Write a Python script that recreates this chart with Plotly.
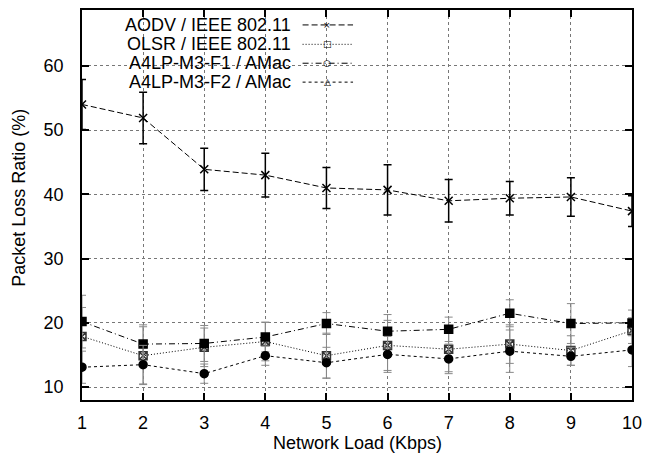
import plotly.graph_objects as go

loads = [1, 2, 3, 4, 5, 6, 7, 8, 9, 10]
series_names = ["AODV / IEEE 802.11", "OLSR / IEEE 802.11", "A4LP-M3-F1 / AMac", "A4LP-M3-F2 / AMac"]

aodv = [54.0, 51.9, 43.9, 43.0, 41.0, 40.7, 39.0, 39.4, 39.6, 37.4]
aodv_err = [3.9, 4.0, 3.3, 3.4, 3.2, 3.9, 3.3, 2.6, 3.0, 2.4]
olsr = [17.9, 14.9, 16.2, 17.1, 14.9, 16.5, 15.9, 16.7, 15.7, 18.8]
olsr_err = [4.5, 4.5, 3.0, 3.0, 3.5, 3.9, 3.5, 3.0, 2.3, 2.0]
f1 = [20.2, 16.7, 16.8, 17.8, 19.9, 18.7, 19.0, 21.5, 19.9, 20.0]
f1_err = [4.1, 3.0, 2.8, 2.3, 1.7, 2.6, 1.9, 2.1, 3.1, 2.0]
f2 = [13.1, 13.5, 12.1, 14.9, 13.8, 15.1, 14.4, 15.6, 14.8, 15.8]
f2_err = [2.5, 3.0, 1.5, 1.5, 2.4, 2.8, 2.3, 3.3, 1.4, 2.6]

y_ticks = [10, 20, 30, 40, 50, 60]

FONT = "Liberation Sans, Arial, Helvetica, sans-serif"
FS = 18

fig = go.Figure()

styles = [
    dict(y=aodv, e=aodv_err, dash="6px,3px", sym="x-thin-open", msize=8, mcolor="black",
         ecolor="black", ethick=1.5),
    dict(y=olsr, e=olsr_err, dash="1px,2px", sym="square-x-open", msize=8, mcolor="#333333",
         ecolor="#888888", ethick=1),
    dict(y=f1, e=f1_err, dash="6px,3px,1px,3px", sym="square", msize=8, mcolor="black",
         ecolor="#888888", ethick=1),
    dict(y=f2, e=f2_err, dash="3px,3px", sym="circle", msize=8, mcolor="black",
         ecolor="#888888", ethick=1),
]

for name, s in zip(series_names, styles):
    fig.add_trace(go.Scatter(
        x=loads, y=s["y"], name=name, mode="lines+markers",
        line=dict(color="black", width=1, dash=s["dash"]),
        marker=dict(symbol=s["sym"], size=s["msize"], color=s["mcolor"],
                    line=dict(color=s["mcolor"], width=1.5)),
        error_y=dict(type="data", array=s["e"], visible=True, color=s["ecolor"],
                     thickness=s["ethick"], width=4),
        showlegend=False,
    ))

# Manual gnuplot-style key: right-aligned text, sample line to the right
L, R, T, B = 82, 12, 8, 60
W, H = 650, 460
pw, ph = W - L - R, H - T - B


def px_x(px):
    return (px - L) / pw


def px_y(py):
    return (H - B - py) / ph


rows = [23, 42.5, 61.5, 80.5]
glyphs = ["×", "□", "○", "△"]
shapes = []
annotations = []
for name, s, ry, g in zip(series_names, styles, rows, glyphs):
    annotations.append(dict(x=px_x(295), y=px_y(ry), xref="paper", yref="paper",
                            text=name, showarrow=False, xanchor="right", yanchor="middle",
                            font=dict(family=FONT, size=FS, color="black")))
    shapes.append(dict(type="line", xref="paper", yref="paper",
                       x0=px_x(305), x1=px_x(356), y0=px_y(ry), y1=px_y(ry),
                       line=dict(color="black", width=1, dash=s["dash"])))
    annotations.append(dict(x=px_x(330), y=px_y(ry), xref="paper", yref="paper",
                            text=g, showarrow=False, xanchor="center", yanchor="middle",
                            bgcolor="rgba(0,0,0,0)",
                            font=dict(family="DejaVu Sans", size=9, color="black")))

# axis titles
annotations.append(dict(x=0.5, y=px_y(443), xref="paper", yref="paper",
                        text="Network Load (Kbps)", showarrow=False,
                        xanchor="center", yanchor="middle",
                        font=dict(family=FONT, size=FS, color="black")))
annotations.append(dict(x=px_x(18), y=px_y(197), xref="paper", yref="paper",
                        text="Packet Loss Ratio (%)", showarrow=False, textangle=-90,
                        xanchor="center", yanchor="middle",
                        font=dict(family=FONT, size=FS, color="black")))

fig.update_layout(
    width=W, height=H,
    margin=dict(l=L, r=R, t=T, b=B, pad=0),
    paper_bgcolor="white", plot_bgcolor="white",
    font=dict(family=FONT, size=FS, color="black"),
    shapes=shapes, annotations=annotations,
    showlegend=False,
)
fig.update_xaxes(
    range=[1, 10], tickmode="array", tickvals=loads, ticktext=[str(v) for v in loads],
    showline=True, linecolor="black", linewidth=1.5, mirror="ticks",
    ticks="inside", ticklen=7, tickcolor="black", tickwidth=1.5,
    showgrid=True, gridcolor="#777777", griddash="dot", gridwidth=1,
    zeroline=False, ticklabelstandoff=6,
)
fig.update_yaxes(
    range=[8, 68.7], tickmode="array", tickvals=y_ticks, ticktext=[str(v) for v in y_ticks],
    showline=True, linecolor="black", linewidth=1.5, mirror="ticks",
    ticks="inside", ticklen=7, tickcolor="black", tickwidth=1.5,
    showgrid=True, gridcolor="#777777", griddash="dot", gridwidth=1,
    zeroline=False, ticklabelstandoff=13,
)

fig.write_html("out.html")
